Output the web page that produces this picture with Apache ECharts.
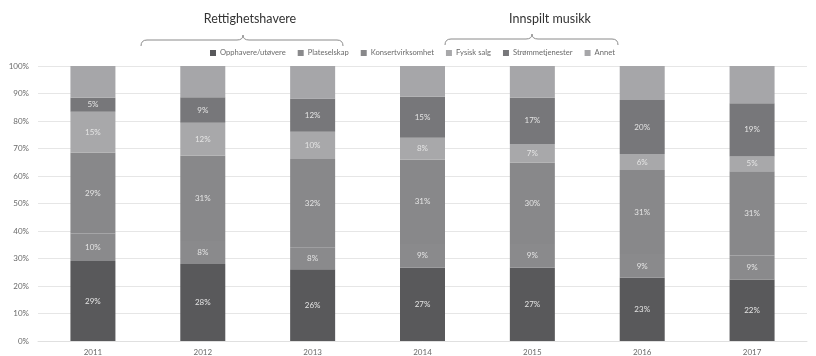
<!DOCTYPE html>
<html><head><meta charset="utf-8">
<script src="https://cdn.jsdelivr.net/npm/echarts@6/dist/echarts.min.js"></script>
<style>html,body{margin:0;padding:0;background:#fff}#c{width:816px;height:356px}</style>
</head><body><div id="c"></div>
<script>
const years = ['2011','2012','2013','2014','2015','2016','2017'];
const opphavere = [29.1, 28.0, 26.1, 26.6, 26.6, 23.0, 22.4];
const plateselskap = [10.0, 8.4, 8.0, 8.7, 8.7, 8.6, 8.7];
const konsert = [29.4, 31.0, 32.1, 30.6, 29.6, 30.6, 30.6];
const fysisk = [14.9, 12.0, 9.9, 8.0, 6.7, 5.8, 5.4];
const strom = [5.1, 9.2, 12.1, 14.9, 16.9, 19.6, 19.4];
const annet = [11.5, 11.4, 11.8, 11.2, 11.5, 12.4, 13.5];
const yTicks = [0,10,20,30,40,50,60,70,80,90,100];

const names = ['Opphavere/utøvere','Plateselskap','Konsertvirksomhet','Fysisk salg','Strømmetjenester','Annet'];
const datasets = [opphavere, plateselskap, konsert, fysisk, strom, annet];
const colors = ['#59595b','#8a8a8c','#88888a','#a8a8aa','#77777a','#a6a6a9'];
const FONT = 'Lato';

const chart = echarts.init(document.getElementById('c'), null, {renderer:'canvas'});
const series = names.map((n,i)=>({
  name:n, type:'bar', stack:'t', barWidth:45,
  data:datasets[i],
  itemStyle:{color:colors[i]},
  label:{show:i<5, position:'inside', color:'#e4e4e4', fontSize:8, fontFamily:FONT,
    formatter:p=>Math.round(p.value)+'%'},
  emphasis:{disabled:true}
}));

function brace(x1,xm,x2,y,ytop,yend){
  const r=6, st={fill:null, stroke:'#8a8a8a', lineWidth:1};
  return [
    {type:'bezierCurve', shape:{x1:x1,y1:yend,x2:x1+r,y2:y,cpx1:x1,cpy1:y}, style:st},
    {type:'line', shape:{x1:x1+r,y1:y,x2:xm-r,y2:y}, style:st},
    {type:'bezierCurve', shape:{x1:xm-r,y1:y,x2:xm,y2:ytop,cpx1:xm,cpy1:y}, style:st},
    {type:'bezierCurve', shape:{x1:xm,y1:ytop,x2:xm+r,y2:y,cpx1:xm,cpy1:y}, style:st},
    {type:'line', shape:{x1:xm+r,y1:y,x2:x2-r,y2:y}, style:st},
    {type:'bezierCurve', shape:{x1:x2-r,y1:y,x2:x2,y2:yend,cpx1:x2,cpy1:y}, style:st}
  ];
}

chart.setOption({
  animation:false,
  grid:{left:38,right:9,top:66,bottom:15},
  legend:{
    data:names, left:205, top:44, itemWidth:6, itemHeight:6, itemGap:12,
    icon:'rect', textStyle:{fontSize:7.6, color:'#6a6a6a', fontFamily:FONT, padding:[0,0,0,-1]}
  },
  xAxis:{type:'category', data:years,
    axisLine:{show:true, lineStyle:{color:'#e0e0e0'}}, axisTick:{show:false},
    axisLabel:{fontSize:8, color:'#6a6a6a', fontFamily:FONT, margin:7}},
  yAxis:{type:'value', min:0, max:100, interval:10,
    axisLabel:{fontSize:8, color:'#6a6a6a', fontFamily:FONT, margin:9, formatter:v=>yTicks.includes(v)?v+'%':''},
    splitLine:{lineStyle:{color:'#e6e6e6'}}, axisLine:{show:false}, axisTick:{show:false}},
  graphic:[
    {type:'text', style:{text:'Rettighetshavere', x:250, y:19, textAlign:'center', textVerticalAlign:'middle', fontSize:12.5, fontFamily:FONT, fill:'#333'}},
    {type:'text', style:{text:'Innspilt musikk', x:550, y:19, textAlign:'center', textVerticalAlign:'middle', fontSize:12.5, fontFamily:FONT, fill:'#333'}}
  ].concat(brace(141,243,343,40,35,46), brace(445,532,618,39,34,45)),
  series:series
});
</script></body></html>
